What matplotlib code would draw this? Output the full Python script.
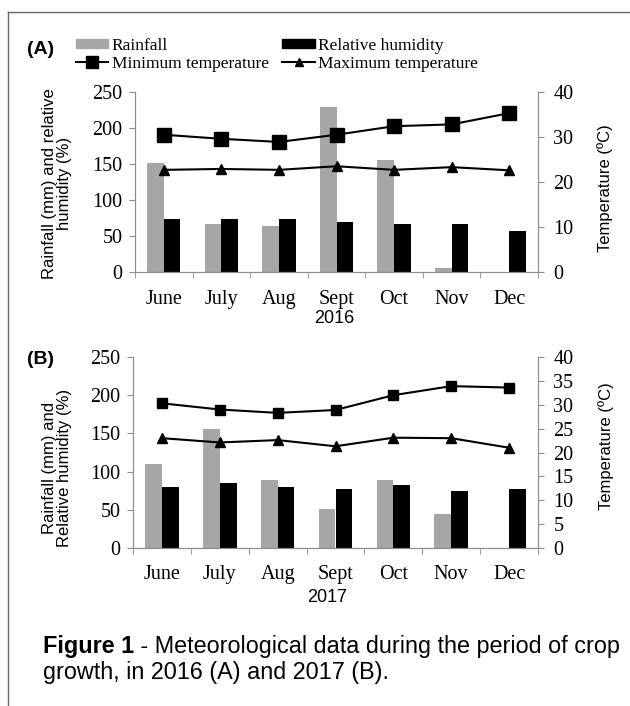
import matplotlib.pyplot as plt
import numpy as np
from matplotlib.lines import Line2D
from matplotlib.patches import Patch

months = ["June", "July", "Aug", "Sept", "Oct", "Nov", "Dec"]

# 2016 (A)
rain_2016 = [151, 66, 64, 229, 155, 6, 0]
rh_2016 = [73, 73, 73, 69, 66, 66, 57]
tmin_2016 = [30.5, 29.6, 28.9, 30.5, 32.4, 32.8, 35.3]
tmax_2016 = [22.7, 22.9, 22.7, 23.5, 22.7, 23.3, 22.6]

# 2017 (B)
rain_2017 = [110, 156, 89, 51, 89, 45, 0]
rh_2017 = [80, 85, 80, 77, 82, 75, 77]
tmin_2017 = [30.3, 29.0, 28.3, 28.9, 32.0, 33.9, 33.6]
tmax_2017 = [23.0, 22.1, 22.6, 21.3, 23.1, 23.0, 21.0]

GRAY = "#a6a6a6"
SPINE = "#8c8c8c"
SERIF = "Liberation Serif"
SANS = "Liberation Sans"
TICK_FS = 14.5

fig = plt.figure(figsize=(6.3, 7.06), dpi=100)


def draw_panel(rect, rain, rh, tmin, tmax, ylabel, tticks, sq_size, tri_size, lpos, rpos, xpad):
    ax = fig.add_axes(rect)
    x = np.arange(len(months))
    w = 0.29
    ax.bar(x - w / 2, rain, width=w, color=GRAY, zorder=2)
    ax.bar(x + w / 2, rh, width=w, color="black", zorder=2)
    ax.set_xlim(-0.5, len(months) - 0.5)
    ax.set_ylim(0, 250)
    ax.set_yticks([0, 50, 100, 150, 200, 250])
    ax.set_xticks(x)
    ax.set_xticklabels(months, fontfamily=SERIF, fontsize=TICK_FS)
    ax.set_xticks(np.arange(len(months) + 1) - 0.5, minor=True)
    ax.tick_params(axis="x", which="major", length=0, pad=xpad)
    ax.tick_params(axis="x", which="minor", length=4, color=SPINE, direction="out")
    ax.tick_params(axis="y", length=4, color=SPINE, direction="out", pad=5)
    for lab in ax.get_yticklabels():
        lab.set_fontfamily(SERIF)
        lab.set_fontsize(TICK_FS)
    ax.set_ylabel(ylabel, fontfamily=SANS, fontsize=12, linespacing=1.0)
    ax.yaxis.set_label_coords(*lpos)
    ax.spines["top"].set_visible(False)
    for s in ["left", "bottom", "right"]:
        ax.spines[s].set_color(SPINE)

    ax2 = ax.twinx()
    ax2.plot(x, tmin, color="black", lw=1.5, marker="s", markersize=sq_size, zorder=3)
    ax2.plot(x, tmax, color="black", lw=1.5, marker="^", markersize=tri_size, zorder=3)
    ax2.set_ylim(0, 40)
    ax2.set_yticks(tticks)
    ax2.tick_params(axis="y", length=4, color=SPINE, direction="out", pad=7)
    for lab in ax2.get_yticklabels():
        lab.set_fontfamily(SERIF)
        lab.set_fontsize(TICK_FS)
    ax2.set_ylabel("Temperature (ºC)", fontfamily=SANS, fontsize=12)
    ax2.yaxis.set_label_coords(*rpos)
    ax2.spines["top"].set_visible(False)
    for s in ["left", "bottom", "right"]:
        ax2.spines[s].set_color(SPINE)
    return ax, ax2


draw_panel([135 / 630, 1 - 272 / 706, 403 / 630, 180 / 706],
           rain_2016, rh_2016, tmin_2016, tmax_2016,
           "Rainfall (mm) and relative\nhumidity (%)", [0, 10, 20, 30, 40], 9.5, 7,
           (-0.156, 0.49), (1.146, 0.467), 13)

draw_panel([133 / 630, 1 - 548 / 706, 405 / 630, 191 / 706],
           rain_2017, rh_2017, tmin_2017, tmax_2017,
           "Rainfall (mm) and\nRelative humidity (%)", [0, 5, 10, 15, 20, 25, 30, 35, 40], 7, 7,
           (-0.151, 0.42), (1.148, 0.534), 12)

fig.text(334 / 630, 1 - 319 / 706, "2016", fontfamily=SANS, fontsize=13, ha="center", va="center")
fig.text(327 / 630, 1 - 598 / 706, "2017", fontfamily=SANS, fontsize=13, ha="center", va="center")
fig.text(27 / 630, 1 - 50 / 706, "(A)", fontfamily=SANS, fontsize=14, fontweight="bold", va="center")
fig.text(27 / 630, 1 - 360 / 706, "(B)", fontfamily=SANS, fontsize=14, fontweight="bold", va="center")

handles = [
    Patch(color=GRAY, label="Rainfall"),
    Line2D([], [], color="black", lw=1.5, marker="s", markersize=8, label="Minimum temperature"),
    Patch(color="black", label="Relative humidity"),
    Line2D([], [], color="black", lw=1.5, marker="^", markersize=6, label="Maximum temperature"),
]
fig.legend(handles=handles, ncol=2, loc="upper left", bbox_to_anchor=(76 / 630, 1 - 38 / 706),
           frameon=False, borderpad=0, borderaxespad=0, handlelength=1.85, handleheight=0.45,
           handletextpad=0.2, columnspacing=0.8, labelspacing=0.1,
           prop={"family": SERIF, "size": 12.5})

# caption
cap_y1 = 1 - 647 / 706
cap_y2 = 1 - 672 / 706
CAP_FS = 16.8
t1 = fig.text(43 / 630, cap_y1, "Figure 1", fontfamily=SANS, fontsize=CAP_FS, fontweight="bold", va="center")
fig.canvas.draw()
bb = t1.get_window_extent()
x_after = bb.x1 / fig.bbox.width
fig.text(x_after, cap_y1, " - Meteorological data during the period of crop",
         fontfamily=SANS, fontsize=CAP_FS, va="center")
fig.text(43 / 630, cap_y2, "growth, in 2016 (A) and 2017 (B).", fontfamily=SANS, fontsize=CAP_FS, va="center")

# frame lines
fig.add_artist(Line2D([8 / 630, 1], [1 - 12 / 706, 1 - 12 / 706], transform=fig.transFigure, color="#666666", lw=1))
fig.add_artist(Line2D([8 / 630, 8 / 630], [0, 1 - 12 / 706], transform=fig.transFigure, color="#666666", lw=1))

fig.savefig("out.png", dpi=100)
